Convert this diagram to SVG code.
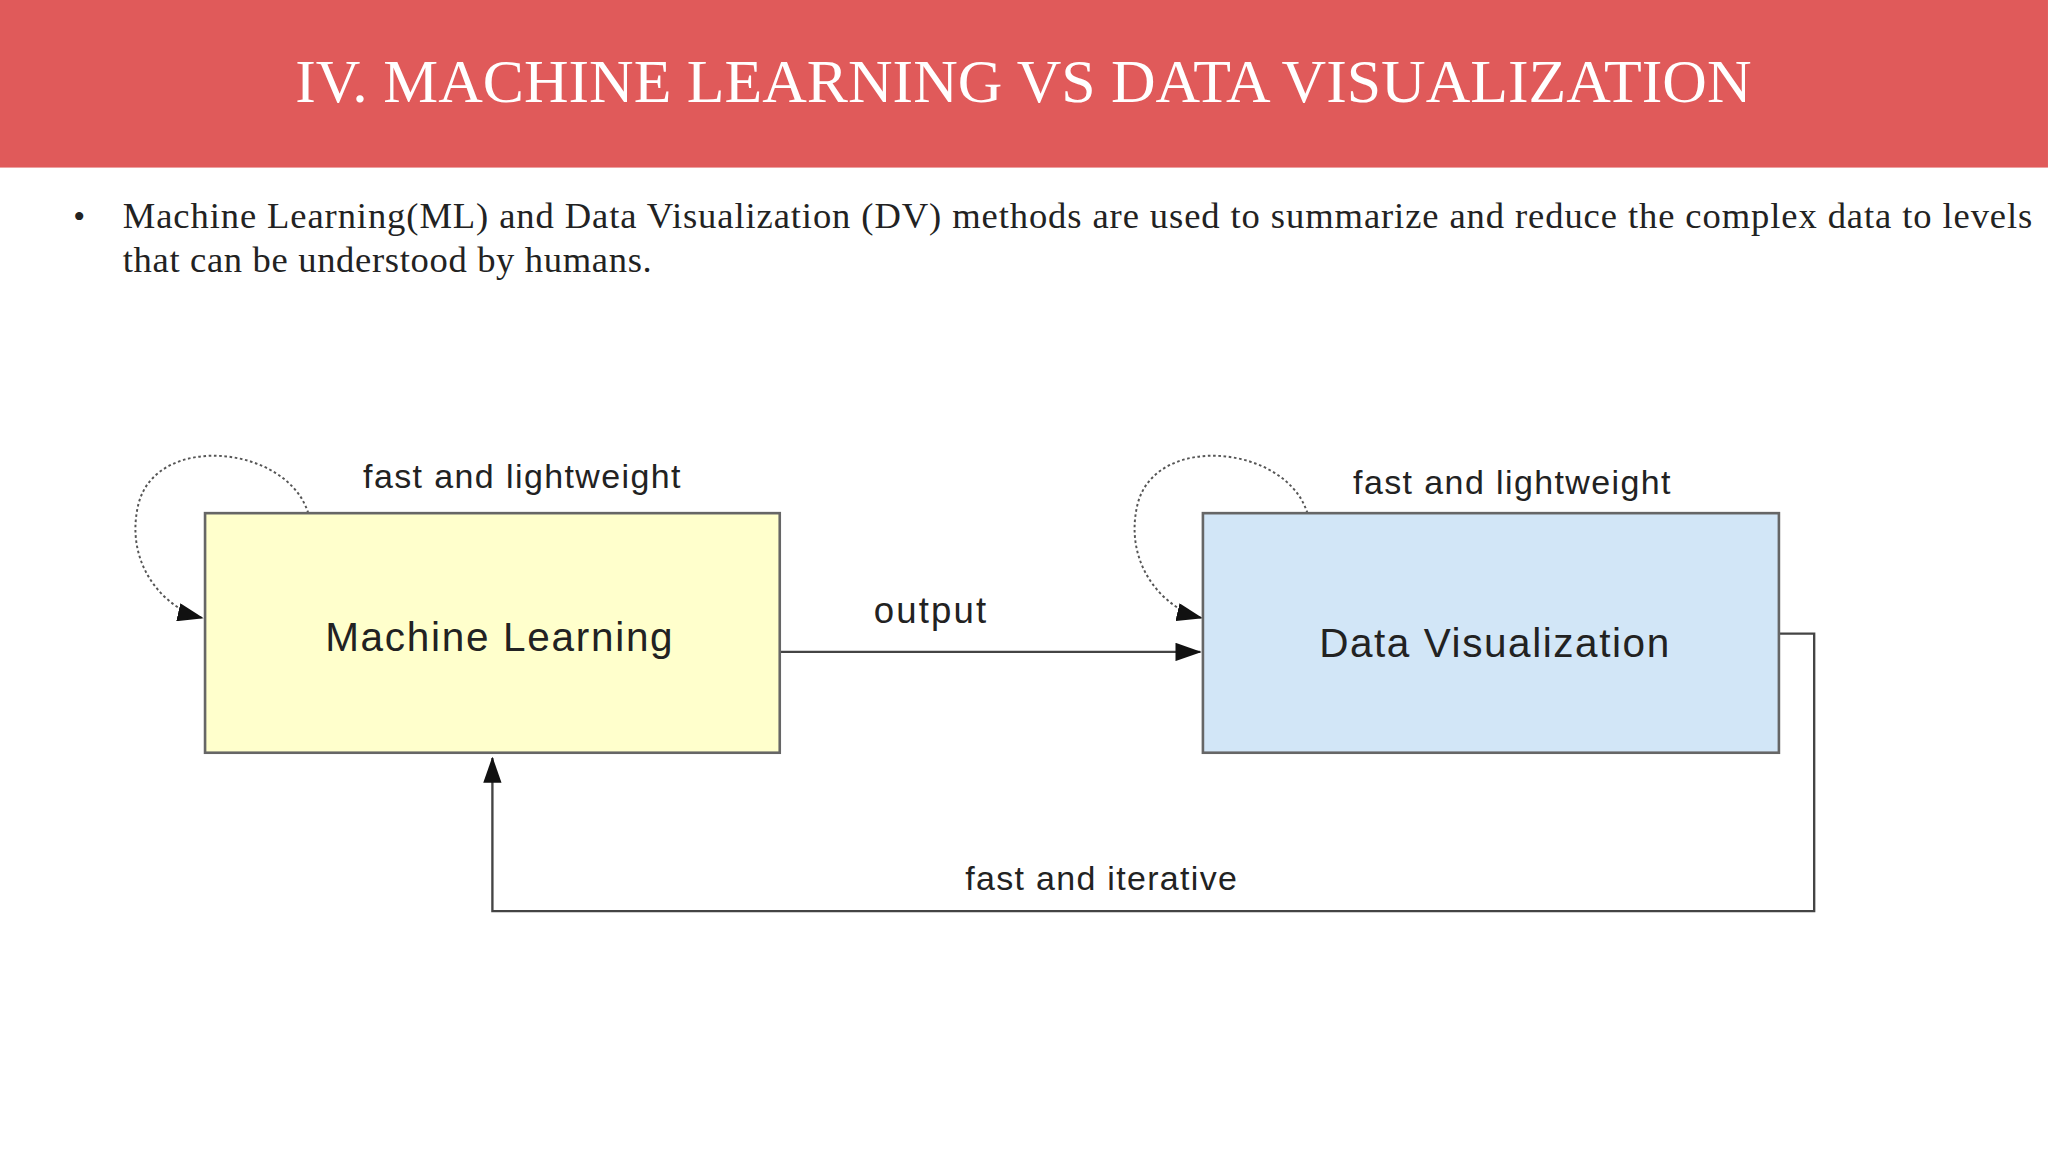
<svg xmlns="http://www.w3.org/2000/svg" width="2048" height="1152" viewBox="0 0 2048 1152">
<style>
.s{font-family:"Liberation Serif",serif}
.a{font-family:"Liberation Sans",Arial,sans-serif;fill:#222}
.box{stroke:#666;stroke-width:2}
.ln{fill:none;stroke:#444;stroke-width:1.8}
.dl{fill:none;stroke:#555;stroke-width:1.5;stroke-dasharray:2 2}
</style>
<defs>
<marker id="ar2" markerWidth="20" markerHeight="14" refX="19" refY="7" orient="auto" markerUnits="userSpaceOnUse" viewBox="0 0 20 14"><path d="M0,0L20,7L0,14z" fill="#111"/></marker></defs>
<rect width="2048" height="1152" fill="#fff"/>
<g transform="scale(1.3061 1.3091)">
<rect x="0" y="0" width="1568" height="128" fill="#E05A5A"/>
<text class="s" x="226" y="78" font-size="47" fill="#fff" textLength="1115" lengthAdjust="spacingAndGlyphs">IV. MACHINE LEARNING VS DATA VISUALIZATION</text>
<text class="s" x="56" y="174" font-size="26" fill="#222">•</text>
<text class="s" x="94" y="174" font-size="28" fill="#222" textLength="1462" lengthAdjust="spacing">Machine Learning(ML)  and Data Visualization (DV) methods are used to summarize and reduce the complex data to levels</text>
<text class="s" x="94" y="208" font-size="28" fill="#222" textLength="405" lengthAdjust="spacing">that can be understood by humans.</text>
<g id="connectors">
<path class="ln" d="M597,498H919" marker-end="url(#ar2)"/>
<path class="ln" d="M1362,484H1389V696H377V579" marker-end="url(#ar2)"/>
<path class="dl" d="M236,392C220,340 120,330 106,385C95,430 125,465 155,472" marker-end="url(#ar2)"/>
<path class="dl" d="M1001,392C985,340 885,330 871,385C860,430 890,465 920,472" marker-end="url(#ar2)"/>
<text class="a" x="669" y="476" font-size="28" textLength="86">output</text>
<text class="a" x="739" y="680" font-size="26" textLength="208">fast and iterative</text>
<text class="a" x="278" y="373" font-size="26" textLength="243">fast and lightweight</text>
<text class="a" x="1036" y="377" font-size="26" textLength="243">fast and lightweight</text>
</g>
<g id="ml"><rect class="box" x="157" y="392" width="440" height="183" fill="#FFFFCC"/>
<text class="a" x="249" y="497" font-size="31" textLength="266">Machine Learning</text></g>
<g id="dv"><rect class="box" x="921" y="392" width="441" height="183" fill="#D2E6F7"/>
<text class="a" x="1010" y="502" font-size="31" textLength="268">Data Visualization</text></g>
</g>
</svg>
